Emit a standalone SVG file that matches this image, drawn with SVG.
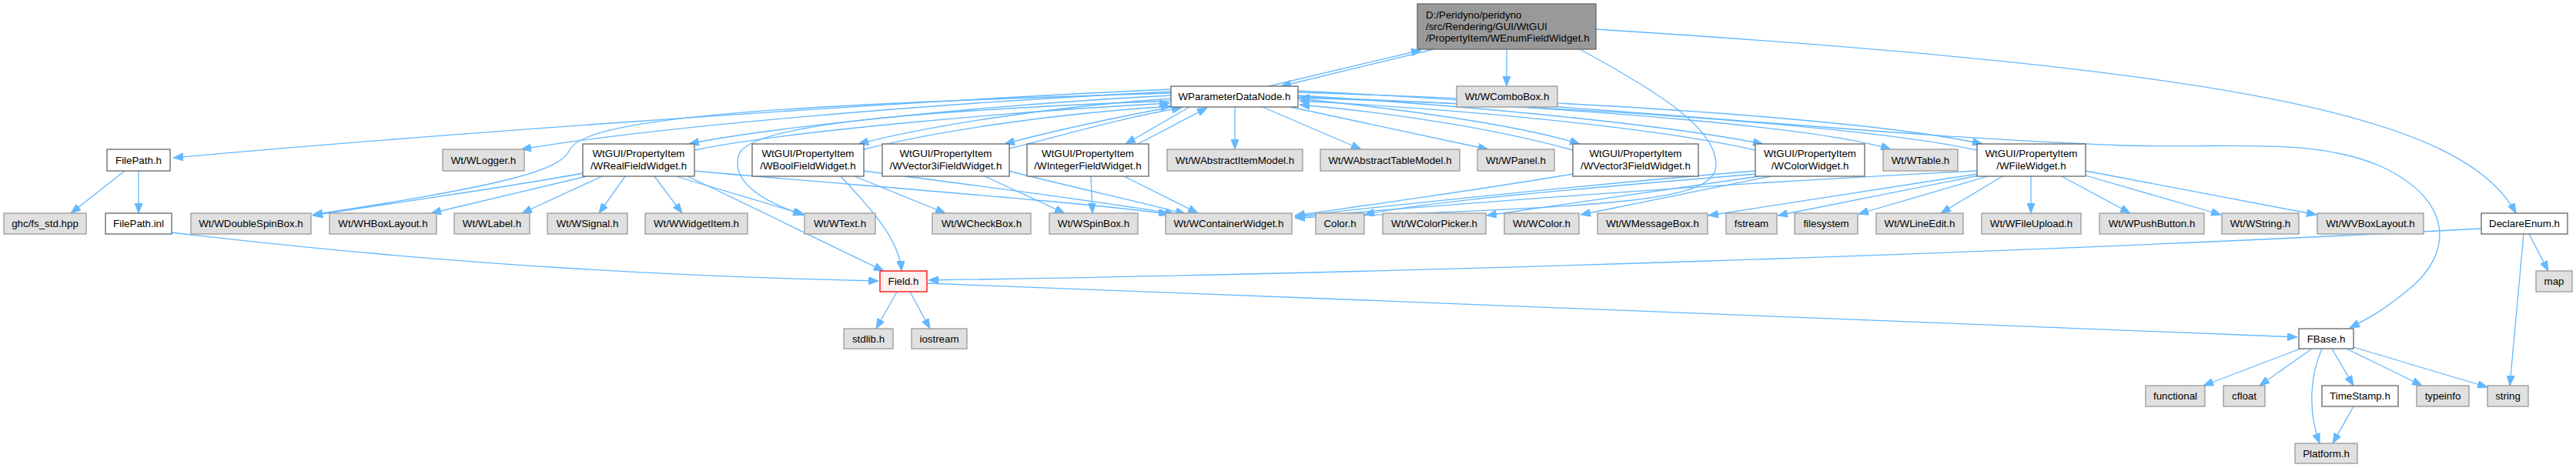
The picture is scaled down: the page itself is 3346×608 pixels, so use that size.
<svg xmlns="http://www.w3.org/2000/svg" width="3346" height="608" viewBox="0 0 3346 608">
<style>
rect{stroke-width:1.3}
.ext{fill:#e0e0e0;stroke:#999999}
.doc{fill:#ffffff;stroke:#666666}
.root{fill:#999999;stroke:#666666}
.err{fill:#fff0f0;stroke:#ff0000}
text{font-family:"Liberation Sans",Arial,sans-serif;font-size:13.33px;fill:#000000;text-anchor:middle}
text.l{text-anchor:start}
#edges path{fill:none;stroke:#63b8ff;stroke-width:1.3;marker-end:url(#arr)}
</style>
<defs>
<marker id="arr" viewBox="0 0 13 10" refX="13" refY="5" markerWidth="13" markerHeight="10" markerUnits="userSpaceOnUse" orient="auto">
<path d="M0,0 L13,5 L0,10 z" fill="#63b8ff" stroke="#63b8ff" stroke-width="1"/>
</marker>
</defs>
<rect width="3346" height="608" fill="#ffffff"/>
<g id="edges">
<!-- main -->
<path d="M1862,64 L1664,112"/>
<path d="M1648,112 L1846,65"/>
<path d="M1957,64 L1957,112"/>
<path d="M2052,64 C2165,125 2230,170 2229,215 C2228,262 2100,268 1682,283"/>
<path d="M2073,38 C2900,90 3200,150 3268,277"/>
<!-- WPDN out -->
<path d="M1521,116 C1100,135 500,180 225,205"/>
<path d="M1521,119 C1200,135 850,165 677,194"/>
<path d="M1521,121 C1050,135 760,150 740,195 C728,222 650,242 406,279"/>
<path d="M1521,124 C1300,135 1000,165 895,187"/>
<path d="M902,195 C1010,172 1310,145 1519,134"/>
<path d="M1521,131 C1150,145 975,165 960,200 C948,235 990,262 1043,279"/>
<path d="M1521,128 C1350,140 1200,165 1115,187"/>
<path d="M1122,194 C1210,172 1360,148 1521,138"/>
<path d="M1523,139 C1450,152 1360,172 1305,187"/>
<path d="M1311,193 C1380,176 1460,152 1535,140"/>
<path d="M1545,139 L1462,187"/>
<path d="M1478,187 L1568,140"/>
<path d="M1604,139 L1604,194"/>
<path d="M1640,139 L1768,194"/>
<path d="M1676,139 L1933,194"/>
<path d="M1686,128 C1850,145 1980,165 2052,187"/>
<path d="M2043,195 C1960,172 1830,148 1688,136"/>
<path d="M1686,124 C1950,140 2180,165 2290,187"/>
<path d="M2280,195 C2170,170 1950,145 1688,131"/>
<path d="M1686,126 C2100,140 2380,170 2456,194"/>
<path d="M1686,120 C2150,135 2450,160 2575,187"/>
<path d="M2568,195 C2450,170 2150,142 1688,127"/>
<path d="M1686,118 C2100,138 2450,178 2760,189 C2900,193 3000,178 3090,215 C3190,260 3185,330 3130,375 C3100,400 3080,412 3052,426"/>
<!-- FilePath -->
<path d="M162,222 L92,277"/>
<path d="M180,222 L180,277"/>
<path d="M223,302 C500,335 800,358 1141,365"/>
<!-- WReal -->
<path d="M757,225 C650,245 500,265 406,280"/>
<path d="M762,229 L560,277"/>
<path d="M782,229 L678,277"/>
<path d="M812,229 L778,277"/>
<path d="M850,229 L886,277"/>
<path d="M878,229 L1045,279"/>
<path d="M902,222 C1100,240 1400,262 1518,278"/>
<path d="M893,229 C980,270 1070,315 1148,352"/>
<!-- WBool -->
<path d="M1092,229 C1130,270 1168,310 1171,352"/>
<path d="M1110,229 L1228,277"/>
<path d="M1121,222 C1300,245 1450,265 1526,278"/>
<!-- WVec3i / WInt -->
<path d="M1279,229 L1383,277"/>
<path d="M1310,222 C1400,245 1480,262 1540,278"/>
<path d="M1417,229 L1419,277"/>
<path d="M1460,229 L1556,277"/>
<!-- right widgets -->
<path d="M2043,226 C1900,250 1750,270 1682,280"/>
<path d="M2280,222 C2000,245 1800,268 1682,281"/>
<path d="M2282,226 C2050,245 1850,262 1772,279"/>
<path d="M2285,229 L1931,280"/>
<path d="M2300,229 L2053,279"/>
<path d="M2568,222 C2200,240 1900,265 1682,282"/>
<path d="M2568,226 L2219,280"/>
<path d="M2570,228 L2309,280"/>
<path d="M2582,229 L2414,278"/>
<path d="M2601,229 L2521,277"/>
<path d="M2638,229 L2638,277"/>
<path d="M2678,229 L2767,277"/>
<path d="M2709,228 L2885,279"/>
<path d="M2709,222 L3009,279"/>
<!-- DeclareEnum -->
<path d="M3223,297 C2600,330 1800,355 1206,364"/>
<path d="M3285,304 L3310,352"/>
<path d="M3278,304 L3260,501"/>
<!-- Field -->
<path d="M1204,368 C1800,390 2500,420 2984,438"/>
<path d="M1165,379 L1138,427"/>
<path d="M1182,379 L1208,427"/>
<!-- FBase -->
<path d="M2988,453 L2862,501"/>
<path d="M3003,453 L2935,501"/>
<path d="M3016,453 C3000,490 2998,535 3013,576"/>
<path d="M3029,453 L3057,501"/>
<path d="M3048,453 L3146,501"/>
<path d="M3057,451 L3231,503"/>
<path d="M3057,528 L3030,576"/>
</g>
<g id="n_main"><rect class="root" x="1841" y="5" width="232" height="59"/><text class="l" x="1852" y="24">D:/Peridyno/peridyno</text><text class="l" x="1852" y="39">/src/Rendering/GUI/WtGUI</text><text class="l" x="1852" y="54">/PropertyItem/WEnumFieldWidget.h</text></g>
<g id="n_wpdn"><rect class="doc" x="1521" y="112" width="165" height="27"/><text x="1603.5" y="130">WParameterDataNode.h</text></g>
<g id="n_combobox"><rect class="ext" x="1892" y="112" width="131" height="27"/><text x="1957.5" y="130">Wt/WComboBox.h</text></g>
<g id="n_filepath_h"><rect class="doc" x="139" y="194" width="82" height="28"/><text x="180" y="213">FilePath.h</text></g>
<g id="n_wlogger"><rect class="ext" x="575" y="194" width="106" height="28"/><text x="628" y="213">Wt/WLogger.h</text></g>
<g id="n_wreal"><rect class="doc" x="757" y="187" width="145" height="42"/><text x="829.5" y="204">WtGUI/PropertyItem</text><text x="829.5" y="219.5">/WRealFieldWidget.h</text></g>
<g id="n_wbool"><rect class="doc" x="977" y="187" width="145" height="42"/><text x="1049.5" y="204">WtGUI/PropertyItem</text><text x="1049.5" y="219.5">/WBoolFieldWidget.h</text></g>
<g id="n_wvec3i"><rect class="doc" x="1146" y="187" width="165" height="42"/><text x="1228.5" y="204">WtGUI/PropertyItem</text><text x="1228.5" y="219.5">/WVector3iFieldWidget.h</text></g>
<g id="n_wint"><rect class="doc" x="1334" y="187" width="158" height="42"/><text x="1413" y="204">WtGUI/PropertyItem</text><text x="1413" y="219.5">/WIntegerFieldWidget.h</text></g>
<g id="n_wabsitem"><rect class="ext" x="1516" y="194" width="176" height="28"/><text x="1604" y="213">Wt/WAbstractItemModel.h</text></g>
<g id="n_wabstable"><rect class="ext" x="1715" y="194" width="181" height="28"/><text x="1805.5" y="213">Wt/WAbstractTableModel.h</text></g>
<g id="n_wpanel"><rect class="ext" x="1919" y="194" width="100" height="28"/><text x="1969" y="213">Wt/WPanel.h</text></g>
<g id="n_wvec3"><rect class="doc" x="2043" y="187" width="163" height="42"/><text x="2124.5" y="204">WtGUI/PropertyItem</text><text x="2124.5" y="219.5">/WVector3FieldWidget.h</text></g>
<g id="n_wcolorw"><rect class="doc" x="2280" y="187" width="142" height="42"/><text x="2351" y="204">WtGUI/PropertyItem</text><text x="2351" y="219.5">/WColorWidget.h</text></g>
<g id="n_wtable"><rect class="ext" x="2446" y="194" width="97" height="28"/><text x="2494.5" y="213">Wt/WTable.h</text></g>
<g id="n_wfilew"><rect class="doc" x="2568" y="187" width="141" height="42"/><text x="2638.5" y="204">WtGUI/PropertyItem</text><text x="2638.5" y="219.5">/WFileWidget.h</text></g>
<g id="n_ghc"><rect class="ext" x="5" y="277" width="107" height="27"/><text x="58.5" y="295">ghc/fs_std.hpp</text></g>
<g id="n_filepath_inl"><rect class="doc" x="137" y="277" width="86" height="27"/><text x="180" y="295">FilePath.inl</text></g>
<g id="n_wdoublespin"><rect class="ext" x="248" y="277" width="156" height="27"/><text x="326" y="295">Wt/WDoubleSpinBox.h</text></g>
<g id="n_whbox"><rect class="ext" x="428" y="277" width="139" height="27"/><text x="497.5" y="295">Wt/WHBoxLayout.h</text></g>
<g id="n_wlabel"><rect class="ext" x="590" y="277" width="98" height="27"/><text x="639" y="295">Wt/WLabel.h</text></g>
<g id="n_wsignal"><rect class="ext" x="711" y="277" width="104" height="27"/><text x="763" y="295">Wt/WSignal.h</text></g>
<g id="n_wwidgetitem"><rect class="ext" x="838" y="277" width="133" height="27"/><text x="904.5" y="295">Wt/WWidgetItem.h</text></g>
<g id="n_wtext"><rect class="ext" x="1045" y="277" width="92" height="27"/><text x="1091" y="295">Wt/WText.h</text></g>
<g id="n_wcheckbox"><rect class="ext" x="1211" y="277" width="128" height="27"/><text x="1275" y="295">Wt/WCheckBox.h</text></g>
<g id="n_wspinbox"><rect class="ext" x="1363" y="277" width="115" height="27"/><text x="1420.5" y="295">Wt/WSpinBox.h</text></g>
<g id="n_wcontainer"><rect class="ext" x="1514" y="277" width="164" height="27"/><text x="1596" y="295">Wt/WContainerWidget.h</text></g>
<g id="n_color"><rect class="ext" x="1709" y="277" width="63" height="27"/><text x="1740.5" y="295">Color.h</text></g>
<g id="n_wcolorpicker"><rect class="ext" x="1796" y="277" width="134" height="27"/><text x="1863" y="295">Wt/WColorPicker.h</text></g>
<g id="n_wcolor"><rect class="ext" x="1954" y="277" width="97" height="27"/><text x="2002.5" y="295">Wt/WColor.h</text></g>
<g id="n_wmessagebox"><rect class="ext" x="2075" y="277" width="143" height="27"/><text x="2146.5" y="295">Wt/WMessageBox.h</text></g>
<g id="n_fstream"><rect class="ext" x="2242" y="277" width="66" height="27"/><text x="2275" y="295">fstream</text></g>
<g id="n_filesystem"><rect class="ext" x="2331" y="277" width="82" height="27"/><text x="2372" y="295">filesystem</text></g>
<g id="n_wlineedit"><rect class="ext" x="2437" y="277" width="113" height="27"/><text x="2493.5" y="295">Wt/WLineEdit.h</text></g>
<g id="n_wfileupload"><rect class="ext" x="2574" y="277" width="129" height="27"/><text x="2638.5" y="295">Wt/WFileUpload.h</text></g>
<g id="n_wpushbutton"><rect class="ext" x="2727" y="277" width="136" height="27"/><text x="2795" y="295">Wt/WPushButton.h</text></g>
<g id="n_wstring"><rect class="ext" x="2886" y="277" width="100" height="27"/><text x="2936" y="295">Wt/WString.h</text></g>
<g id="n_wvbox"><rect class="ext" x="3010" y="277" width="138" height="27"/><text x="3079" y="295">Wt/WVBoxLayout.h</text></g>
<g id="n_declareenum"><rect class="doc" x="3223" y="277" width="112" height="27"/><text x="3279" y="295">DeclareEnum.h</text></g>
<g id="n_field"><rect class="err" x="1143" y="352" width="61" height="27"/><text x="1173.5" y="370">Field.h</text></g>
<g id="n_map"><rect class="ext" x="3294" y="352" width="47" height="27"/><text x="3317.5" y="370">map</text></g>
<g id="n_stdlib"><rect class="ext" x="1096" y="427" width="64" height="26"/><text x="1128" y="445">stdlib.h</text></g>
<g id="n_iostream"><rect class="ext" x="1184" y="427" width="72" height="26"/><text x="1220" y="445">iostream</text></g>
<g id="n_fbase"><rect class="doc" x="2986" y="427" width="71" height="26"/><text x="3021.5" y="445">FBase.h</text></g>
<g id="n_functional"><rect class="ext" x="2787" y="501" width="77" height="27"/><text x="2825.5" y="519">functional</text></g>
<g id="n_cfloat"><rect class="ext" x="2888" y="501" width="54" height="27"/><text x="2915" y="519">cfloat</text></g>
<g id="n_timestamp"><rect class="doc" x="3016" y="501" width="99" height="27"/><text x="3065.5" y="519">TimeStamp.h</text></g>
<g id="n_typeinfo"><rect class="ext" x="3139" y="501" width="68" height="27"/><text x="3173" y="519">typeinfo</text></g>
<g id="n_string"><rect class="ext" x="3231" y="501" width="53" height="27"/><text x="3257.5" y="519">string</text></g>
<g id="n_platform"><rect class="ext" x="2981" y="576" width="81" height="26"/><text x="3021.5" y="594">Platform.h</text></g>
</svg>
